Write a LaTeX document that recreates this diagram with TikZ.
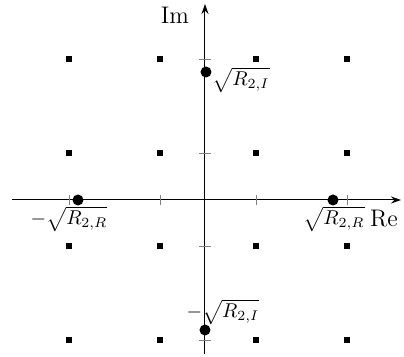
\documentclass[tikz,border=0pt]{standalone}
\usetikzlibrary{arrows.meta}
\tikzset{
  latpt/.style={fill=black, inner sep=0pt, minimum size=2.6pt},
  bigpt/.style={circle, fill=black, inner sep=0pt, minimum size=5.5pt},
  axisline/.style={line width=0.5pt, -{Stealth[length=5pt, width=3.5pt]}},
  tickmark/.style={line width=0.3pt, gray},
  rootlbl/.style={font=\normalsize, inner sep=0pt}
}
\begin{document}
\begin{tikzpicture}[x=0.5pt, y=-0.5pt]
  \useasboundingbox (0,0) rectangle (404,357);

  % Axes
  \coordinate (xlo) at (12,200);
  \coordinate (xhi) at (401,200);
  \coordinate (ylo) at (205,354);
  \coordinate (yhi) at (205,4);
  \draw[axisline] (xlo) -- (xhi);
  \draw[axisline] (ylo) -- (yhi);
  \node[font=\large] (im) at (175,15) {Im};
  \node[font=\large] (re) at (384,219) {Re};

  % Ticks
  \foreach \x in {69,160,256,347}
    \draw[tickmark] (\x,195) -- (\x,205);
  \foreach \y in {59,153,246,340}
    \draw[tickmark] (199,\y) -- (211,\y);

  % Lattice points
  \foreach \x in {69,160,256,347}
    \foreach \y in {59,153,246,340}
      \node[latpt] (p\x-\y) at (\x,\y) {};

  % Roots
  \node[bigpt] (rtop) at (206,72) {};
  \node[bigpt] (rbot) at (205,330) {};
  \node[bigpt] (rleft) at (78,200) {};
  \node[bigpt] (rright) at (333,200) {};

  \node[rootlbl] (ltop) at (241,80) {$\sqrt{R_{2,I}}$};
  \node[rootlbl] (lbot) at (223,312) {$-\sqrt{R_{2,I}}$};
  \node[rootlbl] (lleft) at (69,219) {$-\sqrt{R_{2,R}}$};
  \node[rootlbl] (lright) at (334,219) {$\sqrt{R_{2,R}}$};
\end{tikzpicture}
\end{document}
